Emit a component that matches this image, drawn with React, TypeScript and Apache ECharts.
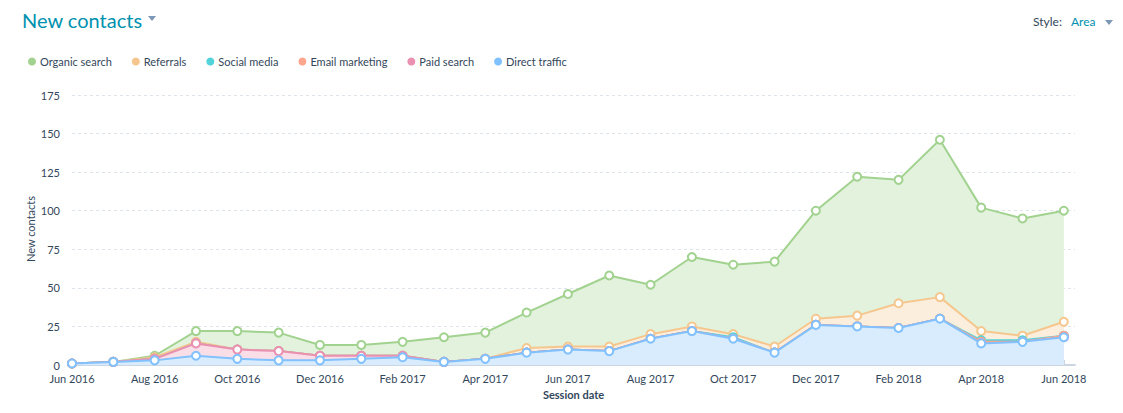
import React, { useEffect, useRef } from "react";
import * as echarts from "echarts";

const months = [
  "Jun 2016", "Jul 2016", "Aug 2016", "Sep 2016", "Oct 2016", "Nov 2016", "Dec 2016",
  "Jan 2017", "Feb 2017", "Mar 2017", "Apr 2017", "May 2017", "Jun 2017", "Jul 2017",
  "Aug 2017", "Sep 2017", "Oct 2017", "Nov 2017", "Dec 2017", "Jan 2018", "Feb 2018",
  "Mar 2018", "Apr 2018", "May 2018", "Jun 2018",
];

// Stacked values (each series adds to the ones below it)
const directTraffic = [1, 2, 3, 6, 4, 3, 3, 4, 5, 2, 4, 8, 10, 9, 17, 22, 17, 8, 26, 25, 24, 30, 14, 15, 18];
const paidSearch = [0, 0, 1, 8, 6, 6, 3, 2, 1, 0, 0, 0, 0, 0, 0, 0, 0, 0, 0, 0, 0, 0, 0, 0, 0];
const emailMarketing = [0, 0, 0, 0, 0, 0, 0, 0, 0, 0, 0, 0, 0, 0, 0, 0, 0, 0, 0, 0, 0, 0, 1, 0, 1];
const socialMedia = [0, 0, 0, 0, 0, 0, 0, 0, 0, 0, 0, 0, 0, 0, 0, 0, 1, 0, 0, 0, 0, 0, 1, 1, 0];
const referrals = [0, 0, 1, 1, 0, 0, 0, 0, 0, 0, 0, 3, 2, 3, 3, 3, 2, 4, 4, 7, 16, 14, 6, 3, 9];
const organicSearch = [0, 0, 1, 7, 12, 12, 7, 7, 9, 16, 17, 23, 34, 46, 32, 45, 45, 55, 70, 90, 80, 102, 80, 76, 72];

const yTicks = [0, 25, 50, 75, 100, 125, 150, 175];

const legendOrder = ["Organic search", "Referrals", "Social media", "Email marketing", "Paid search", "Direct traffic"];

const FONT = "Lato, 'Open Sans', sans-serif";
const TEXT = "#33475b";

function tint(hex: string, a: number) {
  const n = parseInt(hex.slice(1), 16);
  const r = (n >> 16) & 255, g = (n >> 8) & 255, b = n & 255;
  const m = (c: number) => Math.round(255 - a * (255 - c));
  return `rgb(${m(r)},${m(g)},${m(b)})`;
}

export default function App() {
  const ref = useRef<HTMLDivElement>(null);

  useEffect(() => {
    if (!ref.current) return;
    const chart = echarts.init(ref.current, undefined, { renderer: "svg" });

    // bottom to top of the stack
    const defs = [
      { name: "Direct traffic", data: directTraffic, color: "#81c1fd", z: 8 },
      { name: "Paid search", data: paidSearch, color: "#ea90b1", z: 7 },
      { name: "Email marketing", data: emailMarketing, color: "#fea58e", z: 6 },
      { name: "Social media", data: socialMedia, color: "#51d3d9", z: 5 },
      { name: "Referrals", data: referrals, color: "#f5c78e", z: 4 },
      { name: "Organic search", data: organicSearch, color: "#a2d28f", z: 3 },
    ];
    const colorOf: Record<string, string> = {};
    defs.forEach((d) => (colorOf[d.name] = d.color));

    const running = months.map(() => 0);
    const series = defs.map((d) => {
      const pts = d.data.map((v, i) => {
        running[i] += v;
        return [i, running[i]];
      });
      return {
        name: d.name,
        type: "line",
        z: d.z,
        color: d.color,
        data: pts,
        symbol: "circle",
        symbolSize: 8,
        showSymbol: true,
        lineStyle: { width: 2, color: d.color },
        itemStyle: { color: "#ffffff", borderColor: d.color, borderWidth: 2 },
        areaStyle: { color: tint(d.color, 0.3), opacity: 1 },
        emphasis: { disabled: true },
      };
    });

    chart.setOption({
      animation: false,
      textStyle: { fontFamily: FONT },
      title: {
        text: "New contacts",
        left: 17,
        top: 5,
        textStyle: { fontFamily: FONT, fontSize: 20, fontWeight: "normal", color: "#0091ae" },
      },
      legend: {
        left: 23,
        top: 51,
        icon: "circle",
        itemWidth: 8,
        itemHeight: 8,
        itemGap: 20,
        textStyle: { fontFamily: FONT, fontSize: 11, color: TEXT, padding: [0, 0, 0, -1] },
        data: legendOrder.map((n) => ({
          name: n,
          itemStyle: { color: colorOf[n], borderWidth: 0 },
        })),
      },
      graphic: [
        {
          type: "polygon",
          shape: { points: [[148, 16], [156, 16], [152, 21]] },
          style: { fill: "#7c98b6" },
        },
        {
          type: "text",
          left: 1033,
          top: 15,
          style: { text: "Style:", fontFamily: FONT, fontSize: 12, fill: TEXT },
        },
        {
          type: "text",
          left: 1071,
          top: 15,
          style: { text: "Area", fontFamily: FONT, fontSize: 12, fill: "#0091ae" },
        },
        {
          type: "polygon",
          shape: { points: [[1105, 20], [1113, 20], [1109, 25]] },
          style: { fill: "#7c98b6" },
        },
        {
          type: "text",
          x: 30,
          y: 229,
          rotation: Math.PI / 2,
          style: {
            text: "New contacts",
            fontFamily: FONT,
            fontSize: 11,
            fill: TEXT,
            align: "center",
            verticalAlign: "middle",
          },
        },
      ],
      grid: { left: 72, right: 48, top: 95, bottom: 48, containLabel: false },
      xAxis: {
        type: "value",
        min: 0,
        max: 24.27,
        interval: 2,
        name: "Session date",
        nameLocation: "middle",
        nameGap: 24,
        nameTextStyle: { fontFamily: FONT, fontSize: 11, fontWeight: "bold", color: TEXT },
        axisLine: { show: true, lineStyle: { color: "#cbd6e2", width: 2 } },
        axisTick: { show: true, inside: true, length: 5, lineStyle: { color: "#cbd6e2", width: 1 } },
        splitLine: { show: false },
        axisLabel: {
          fontFamily: FONT,
          fontSize: 11,
          color: TEXT,
          margin: 8,
          showMaxLabel: false,
          formatter: (v: number) =>
            Number.isInteger(v) && v % 2 === 0 && months[v] ? months[v] : "",
        },
      },
      yAxis: {
        type: "value",
        min: yTicks[0],
        max: yTicks[yTicks.length - 1],
        interval: 25,
        axisLine: { show: false },
        axisTick: { show: false },
        axisLabel: { fontFamily: FONT, fontSize: 11, color: TEXT, margin: 12 },
        splitLine: { show: true, lineStyle: { color: "#dfe3eb", type: [3, 3], width: 1 } },
      },
      series,
    });

    return () => chart.dispose();
  }, []);

  return (
    <div
      ref={ref}
      style={{ position: "fixed", left: 0, top: 0, width: 1123, height: 413, background: "#fff" }}
    />
  );
}
